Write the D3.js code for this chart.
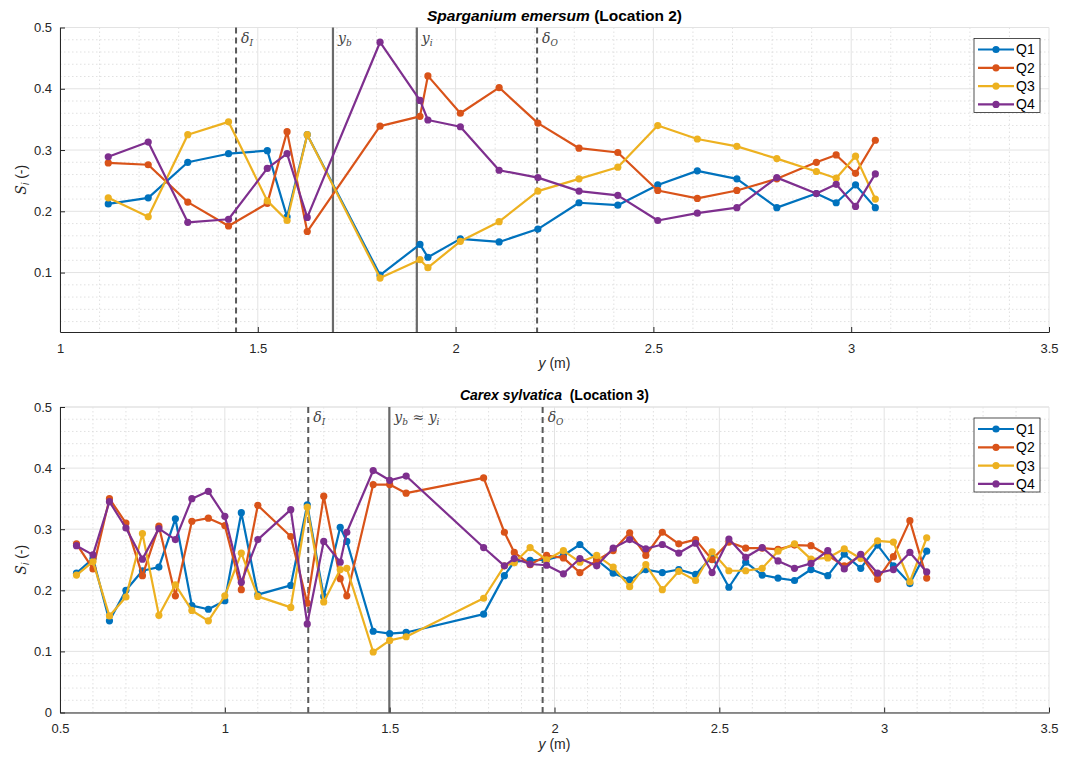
<!DOCTYPE html>
<html>
<head>
<meta charset="utf-8">
<script src="https://cdn.jsdelivr.net/npm/d3@7"></script>
<style>
  body { margin: 0; background: #fff; }
  svg { display: block; font-family: "Liberation Sans", Arial, sans-serif; }
</style>
</head>
<body>
<div id="chart"></div>
<script>
// ---- data: Sparganium emersum (Location 2)
const topY = [1.122, 1.223, 1.323, 1.426, 1.524, 1.574, 1.625, 1.809, 1.910, 1.930, 2.012, 2.110,
  2.208, 2.312, 2.410, 2.511, 2.611, 2.711, 2.812, 2.912, 2.962, 3.011, 3.061];
const topQ1 = [0.212, 0.222, 0.280, 0.294, 0.299, 0.191, 0.325, 0.096, 0.146, 0.125, 0.155, 0.150,
  0.171, 0.214, 0.210, 0.243, 0.266, 0.253, 0.206, 0.229, 0.214, 0.243, 0.206];
const topQ2 = [0.279, 0.276, 0.215, 0.176, 0.213, 0.330, 0.167, 0.339, 0.355, 0.421, 0.360, 0.402,
  0.344, 0.303, 0.296, 0.234, 0.221, 0.234, 0.253, 0.280, 0.292, 0.262, 0.316];
const topQ3 = [0.222, 0.191, 0.325, 0.346, 0.217, 0.185, 0.325, 0.091, 0.121, 0.108, 0.151, 0.183,
  0.233, 0.253, 0.272, 0.340, 0.318, 0.306, 0.286, 0.265, 0.254, 0.290, 0.220];
const topQ4 = [0.289, 0.313, 0.182, 0.187, 0.270, 0.294, 0.190, 0.476, 0.381, 0.349, 0.338, 0.267,
  0.255, 0.233, 0.226, 0.185, 0.197, 0.206, 0.255, 0.229, 0.244, 0.208, 0.261];
const topMarkers = [
  { x: 1.445, dashed: true, label: ["δ", "I", ""] },
  { x: 1.690, dashed: false, label: ["y", "b", ""] },
  { x: 1.902, dashed: false, label: ["y", "i", ""] },
  { x: 2.206, dashed: true, label: ["δ", "O", ""] }
];

// ---- data: Carex sylvatica (Location 3)
const botY = [0.55, 0.60, 0.65, 0.70, 0.75, 0.80, 0.85, 0.90, 0.95, 1.00, 1.05, 1.10, 1.20, 1.25,
  1.30, 1.35, 1.37, 1.45, 1.50, 1.55, 1.785, 1.848, 1.878, 1.926, 1.976, 2.027, 2.077, 2.128,
  2.178, 2.228, 2.277, 2.327, 2.377, 2.428, 2.478, 2.529, 2.580, 2.630, 2.678, 2.728, 2.778,
  2.829, 2.879, 2.929, 2.980, 3.028, 3.078, 3.129];
const botQ1 = [0.228, 0.252, 0.150, 0.200, 0.232, 0.238, 0.317, 0.175, 0.169, 0.183, 0.327, 0.193,
  0.208, 0.340, 0.190, 0.303, 0.280, 0.133, 0.129, 0.131, 0.161, 0.224, 0.247, 0.249, 0.250,
  0.257, 0.275, 0.250, 0.228, 0.217, 0.234, 0.229, 0.234, 0.226, 0.255, 0.205, 0.246, 0.225,
  0.220, 0.216, 0.234, 0.224, 0.259, 0.236, 0.274, 0.240, 0.211, 0.264];
const botQ2 = [0.276, 0.235, 0.350, 0.310, 0.224, 0.305, 0.191, 0.313, 0.318, 0.306, 0.201, 0.339,
  0.288, 0.179, 0.354, 0.219, 0.191, 0.373, 0.373, 0.359, 0.384, 0.295, 0.262, 0.242, 0.257,
  0.253, 0.229, 0.249, 0.265, 0.294, 0.257, 0.295, 0.276, 0.283, 0.250, 0.279, 0.269, 0.269,
  0.267, 0.274, 0.273, 0.257, 0.240, 0.257, 0.218, 0.255, 0.314, 0.220];
const botQ3 = [0.225, 0.247, 0.158, 0.189, 0.293, 0.159, 0.209, 0.167, 0.150, 0.191, 0.261, 0.190,
  0.172, 0.336, 0.181, 0.234, 0.236, 0.099, 0.118, 0.124, 0.187, 0.240, 0.245, 0.270, 0.250,
  0.265, 0.246, 0.257, 0.238, 0.206, 0.242, 0.201, 0.231, 0.216, 0.263, 0.232, 0.232, 0.236,
  0.264, 0.276, 0.251, 0.253, 0.268, 0.252, 0.281, 0.279, 0.214, 0.286];
const botQ4 = [0.273, 0.258, 0.345, 0.302, 0.251, 0.301, 0.283, 0.350, 0.362, 0.321, 0.213, 0.283,
  0.332, 0.145, 0.280, 0.246, 0.295, 0.396, 0.380, 0.387, 0.270, 0.240, 0.252, 0.243, 0.241,
  0.227, 0.252, 0.240, 0.269, 0.283, 0.268, 0.275, 0.261, 0.277, 0.229, 0.284, 0.254, 0.270,
  0.248, 0.236, 0.244, 0.265, 0.235, 0.259, 0.228, 0.234, 0.262, 0.230];
const botMarkers = [
  { x: 1.253, dashed: true, label: ["δ", "I", ""] },
  { x: 1.499, dashed: false, label: ["y", "b", " ≈ ", "y", "i"] },
  { x: 1.964, dashed: true, label: ["δ", "O", ""] }
];

const seriesNames = ["Q1", "Q2", "Q3", "Q4"];
const seriesColors = ["#0072BD", "#D95319", "#EDB120", "#7E2F8E"];
const yTicks = [0, 0.1, 0.2, 0.3, 0.4, 0.5];

const width = 1066, height = 763;
const svg = d3.select("#chart").append("svg")
  .attr("width", width)
  .attr("height", height);

drawPanel({
  top: 27.5, bottom: 332, left: 60, right: 1049,
  xDomain: [1, 3.5], yDomain: [0.003, 0.5],
  xTicks: [1, 1.5, 2, 2.5, 3, 3.5],
  xs: topY, series: [topQ1, topQ2, topQ3, topQ4],
  markers: topMarkers,
  titleItalic: "Sparganium emersum", titleRest: " (Location 2)", titleSize: 15.5
});

drawPanel({
  top: 407, bottom: 712.5, left: 60, right: 1049,
  xDomain: [0.5, 3.5], yDomain: [0, 0.5],
  xTicks: [0.5, 1, 1.5, 2, 2.5, 3, 3.5],
  xs: botY, series: [botQ1, botQ2, botQ3, botQ4],
  markers: botMarkers,
  titleItalic: "Carex sylvatica", titleRest: "  (Location 3)", titleSize: 14
});

function drawPanel(p) {
  const x = d3.scaleLinear().domain(p.xDomain).range([p.left, p.right]);
  const y = d3.scaleLinear().domain(p.yDomain).range([p.bottom, p.top]);
  const g = svg.append("g");

  // minor grid
  const xMinor = d3.range(Math.ceil(p.xDomain[0] * 10), Math.floor(p.xDomain[1] * 10) + 1)
    .map(d => d / 10).filter(d => Math.abs(d * 2 - Math.round(d * 2)) > 1e-6);
  const yMinor = d3.range(1, 25).map(d => d * 0.02).filter(d => d > p.yDomain[0] && Math.abs(d * 10 - Math.round(d * 10)) > 1e-6);

  g.append("g").selectAll("line")
    .data(xMinor)
    .join("line")
    .attr("x1", d => x(d)).attr("x2", d => x(d))
    .attr("y1", p.top).attr("y2", p.bottom)
    .attr("stroke", "#d9d9d9").attr("stroke-width", 0.8)
    .attr("stroke-dasharray", "1.5,2.5");
  g.append("g").selectAll("line")
    .data(yMinor)
    .join("line")
    .attr("x1", p.left).attr("x2", p.right)
    .attr("y1", d => y(d)).attr("y2", d => y(d))
    .attr("stroke", "#d9d9d9").attr("stroke-width", 0.8)
    .attr("stroke-dasharray", "1.5,2.5");

  // major grid
  g.append("g").selectAll("line")
    .data(p.xTicks)
    .join("line")
    .attr("x1", d => x(d)).attr("x2", d => x(d))
    .attr("y1", p.top).attr("y2", p.bottom)
    .attr("stroke", "#e3e3e3").attr("stroke-width", 1);
  g.append("g").selectAll("line")
    .data(yTicks.filter(d => d >= p.yDomain[0]))
    .join("line")
    .attr("x1", p.left).attr("x2", p.right)
    .attr("y1", d => y(d)).attr("y2", d => y(d))
    .attr("stroke", "#e3e3e3").attr("stroke-width", 1);
  g.append("line")
    .attr("x1", p.left).attr("x2", p.right)
    .attr("y1", p.top).attr("y2", p.top)
    .attr("stroke", "#e3e3e3");

  // vertical reference lines
  p.markers.forEach(m => {
    g.append("line")
      .attr("x1", x(m.x)).attr("x2", x(m.x))
      .attr("y1", p.top).attr("y2", p.bottom)
      .attr("stroke", m.dashed ? "#5a5a5a" : "#6a6a6a")
      .attr("stroke-width", m.dashed ? 2 : 2.2)
      .attr("stroke-dasharray", m.dashed ? "6,4" : null);
    const t = g.append("text")
      .attr("x", x(m.x) + 5)
      .attr("y", p.top + 15)
      .attr("fill", "#444")
      .style("font-family", "'DejaVu Serif', 'Liberation Serif', serif")
      .style("font-size", "14px");
    const parts = m.label;
    t.append("tspan").style("font-style", "italic").text(parts[0]);
    t.append("tspan").style("font-style", "italic").style("font-size", "9px")
      .attr("dy", 3).text(parts[1]);
    if (parts.length > 3) {
      t.append("tspan").attr("dy", -3).text(parts[2]);
      t.append("tspan").style("font-style", "italic").text(parts[3]);
      t.append("tspan").style("font-style", "italic").style("font-size", "9px")
        .attr("dy", 3).text(parts[4]);
    }
  });

  // axes
  const xAxis = g.append("g")
    .attr("transform", `translate(0,${p.bottom})`)
    .call(d3.axisBottom(x).tickValues(p.xTicks).tickSizeInner(-5).tickSizeOuter(0).tickPadding(9)
      .tickFormat(d3.format("")));
  const yAxis = g.append("g")
    .attr("transform", `translate(${p.left},0)`)
    .call(d3.axisLeft(y).tickValues(yTicks.filter(d => d >= p.yDomain[0])).tickSizeInner(-5)
      .tickSizeOuter(0).tickPadding(8).tickFormat(d3.format("")));
  [xAxis, yAxis].forEach(a => {
    a.select(".domain").attr("stroke", "#262626");
    a.selectAll(".tick line").attr("stroke", "#262626");
    a.selectAll(".tick text").attr("fill", "#262626")
      .style("font-size", "13px")
      .style("font-family", "'Liberation Sans', Arial, sans-serif");
  });
  xAxis.selectAll(".tick text").attr("dy", "0.9em");

  // series
  const line = d3.line().x(d => x(d[0])).y(d => y(d[1]));
  p.series.forEach((vals, i) => {
    const pts = p.xs.map((xv, j) => [xv, vals[j]]);
    const s = g.append("g");
    s.append("path")
      .datum(pts)
      .attr("d", line)
      .attr("fill", "none")
      .attr("stroke", seriesColors[i])
      .attr("stroke-width", 2.2)
      .attr("stroke-linejoin", "round");
    s.selectAll("circle")
      .data(pts)
      .join("circle")
      .attr("cx", d => x(d[0]))
      .attr("cy", d => y(d[1]))
      .attr("r", 3.6)
      .attr("fill", seriesColors[i]);
  });

  // title
  const title = g.append("text")
    .attr("x", (p.left + p.right) / 2)
    .attr("y", p.top - 7)
    .attr("text-anchor", "middle")
    .attr("fill", "#000")
    .style("font-weight", "bold")
    .style("font-size", p.titleSize + "px");
  title.append("tspan").style("font-style", "italic").text(p.titleItalic);
  title.append("tspan").attr("xml:space", "preserve").style("white-space", "pre").text(p.titleRest);

  // x label
  const xl = g.append("text")
    .attr("x", (p.left + p.right) / 2)
    .attr("y", p.bottom + 36)
    .attr("text-anchor", "middle")
    .attr("fill", "#262626")
    .style("font-size", "14px");
  xl.append("tspan").style("font-style", "italic").text("y");
  xl.append("tspan").text(" (m)");

  // y label
  const yl = g.append("text")
    .attr("transform", `translate(26,${(p.top + p.bottom) / 2}) rotate(-90)`)
    .attr("text-anchor", "middle")
    .attr("fill", "#262626")
    .style("font-size", "14px");
  yl.append("tspan").style("font-style", "italic").style("font-family", "'DejaVu Serif', serif").text("S");
  yl.append("tspan").style("font-style", "italic").style("font-size", "10px").attr("dy", 3).text("i");
  yl.append("tspan").attr("dy", -3).attr("dx", 4).text("(-)");

  // legend
  const lg = g.append("g").attr("transform", `translate(974,${p.top + 11})`);
  lg.append("rect")
    .attr("width", 66).attr("height", 74)
    .attr("fill", "#fff")
    .attr("stroke", "#262626").attr("stroke-width", 0.8);
  const item = lg.selectAll("g.item")
    .data(seriesNames)
    .join("g")
    .attr("class", "item")
    .attr("transform", (d, i) => `translate(0,${11 + i * 18.3})`);
  item.append("line")
    .attr("x1", 4).attr("x2", 40)
    .attr("stroke", (d, i) => seriesColors[i])
    .attr("stroke-width", 2.2);
  item.append("circle")
    .attr("cx", 22).attr("r", 3.6)
    .attr("fill", (d, i) => seriesColors[i]);
  item.append("text")
    .attr("x", 42).attr("dy", "0.35em")
    .attr("fill", "#000")
    .style("font-size", "14px")
    .text(d => d);
}
</script>
</body>
</html>
